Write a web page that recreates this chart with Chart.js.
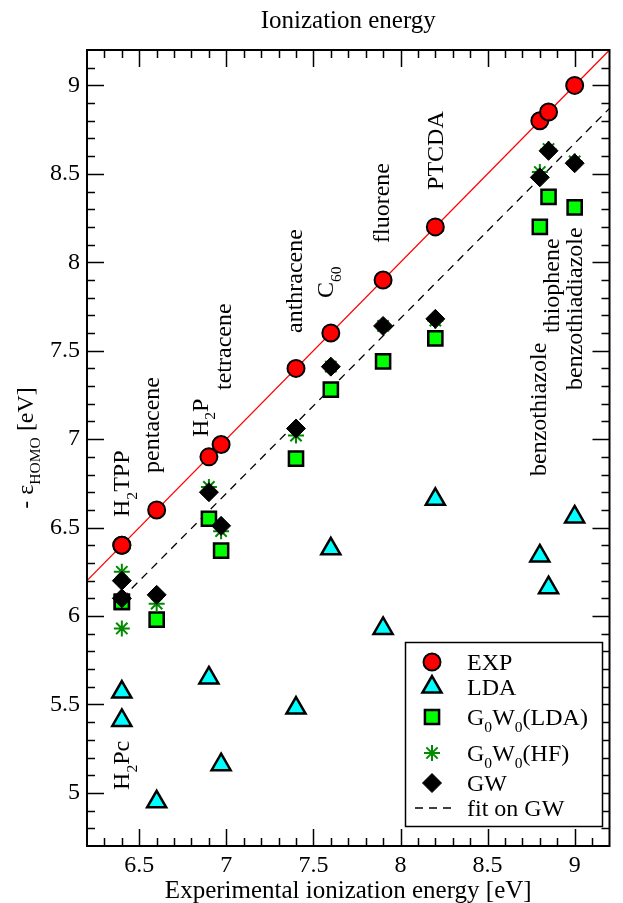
<!DOCTYPE html>
<html><head><meta charset="utf-8">
<script src="https://cdn.jsdelivr.net/npm/chart.js@4.4.0/dist/chart.umd.min.js"></script>
<style>html,body{margin:0;padding:0;background:#fff;}canvas{display:block;}</style>
</head><body>
<canvas id="c" width="623" height="903"></canvas>
<script>
// ---- data ----
const molecules = ['H_2Pc','H_2TPP','pentacene','H_2P','tetracene','anthracene','C_{60}','fluorene','PTCDA','benzothiazole','thiophene','benzothiadiazole'];
const expIE       = [6.40, 6.40, 6.60, 6.90, 6.97, 7.40, 7.60, 7.90, 8.20, 8.80, 8.85, 9.00];
const ldaHOMO     = [5.41, 5.57, 4.95, 5.65, 5.16, 5.48, 6.38, 5.93, 6.66, 6.34, 6.16, 6.56];
const g0w0LdaHOMO = [6.08, 6.08, 5.98, 6.55, 6.37, 6.89, 7.28, 7.44, 7.57, 8.20, 8.37, 8.31];
const g0w0HfHOMO  = [5.93, 6.25, 6.07, 6.73, 6.48, 7.02, 7.41, 7.64, 7.67, 8.51, 8.64, 8.57];
const gwHOMO      = [6.10, 6.20, 6.12, 6.70, 6.51, 7.06, 7.41, 7.64, 7.68, 8.48, 8.63, 8.56];
const identityX = [6.2, 9.2];
const identityY = [6.2, 9.2];
const fitX = [6.4, 9.2];
const fitY = [6.10, 8.87];
const xTicks = [6.5, 7, 7.5, 8, 8.5, 9];
const yTicks = [5, 5.5, 6, 6.5, 7, 7.5, 8, 8.5, 9];

// annotation anchors (data coords: baseline x, start y) for rotated molecule names
const labelAnchorX = [6.443, 6.443, 6.613, 6.896, 7.026, 7.434, 7.615, 7.932, 8.243, 8.838, 8.911, 9.041];
const labelAnchorY = [5.017, 6.56, 6.809, 7.012, 7.278, 7.60, 7.798, 8.109, 8.409, 6.792, 7.60, 7.278];

const FONT = '"Liberation Serif","Times New Roman",serif';
const pts = (xs, ys) => xs.map((x, i) => ({x, y: ys[i]}));

function parseRich(s){
  const segs=[]; let i=0, buf='';
  while(i<s.length){
    if(s[i]==='_'){
      if(buf){segs.push({t:buf,sub:false});buf='';}
      i++;
      if(s[i]==='{'){const j=s.indexOf('}',i);segs.push({t:s.slice(i+1,j),sub:true});i=j+1;}
      else {segs.push({t:s[i],sub:true});i++;}
    } else {buf+=s[i];i++;}
  }
  if(buf)segs.push({t:buf,sub:false});
  return segs;
}
function richWidth(ctx,s,size){
  let w=0;
  for(const g of parseRich(s)){ctx.font=(g.sub?size*0.65:size)+'px '+FONT;w+=ctx.measureText(g.t).width;}
  return w;
}
function drawRich(ctx,s,x,y,size){
  let cx=x;
  ctx.textBaseline='alphabetic';ctx.textAlign='left';
  for(const g of parseRich(s)){
    const fs=g.sub?size*0.65:size;
    ctx.font=fs+'px '+FONT;
    ctx.fillText(g.t,cx,y+(g.sub?size*0.3:0));
    cx+=ctx.measureText(g.t).width;
  }
}

const legendItems = [
  {text:'EXP', style:'circle', r:8.5, fill:'#ff0000', stroke:'#000', bw:2},
  {text:'LDA', style:'triangle', r:11, fill:'#00ffff', stroke:'#000', bw:2.5},
  {text:'G_0W_0(LDA)', style:'rect', r:10, fill:'#00ff00', stroke:'#000', bw:2.5},
  {text:'G_0W_0(HF)', style:'star', r:8, fill:'#008b00', stroke:'#008b00', bw:2},
  {text:'GW', style:'rectRot', r:9.5, fill:'#000', stroke:'#000', bw:1},
  {text:'fit on GW', style:'dash'}
];

const decor = {
  id:'decor',
  afterDraw(chart){
    const ctx=chart.ctx, a=chart.chartArea, xs=chart.scales.x, ys=chart.scales.y;
    ctx.save();
    ctx.strokeStyle='#000';ctx.fillStyle='#000';
    // ticks
    ctx.lineWidth=1.5;
    for(let i=63;i<92;i++){
      const px=Math.round(xs.getPixelForValue(i/10))+0.5; const L=(i%5===0)?17:8;
      ctx.beginPath();ctx.moveTo(px,a.bottom);ctx.lineTo(px,a.bottom-L);ctx.moveTo(px,a.top);ctx.lineTo(px,a.top+L);ctx.stroke();
    }
    for(let i=48;i<92;i++){
      const py=Math.round(ys.getPixelForValue(i/10))+0.5; const L=(i%5===0)?17:8;
      ctx.beginPath();ctx.moveTo(a.left,py);ctx.lineTo(a.left+L,py);ctx.moveTo(a.right,py);ctx.lineTo(a.right-L,py);ctx.stroke();
    }
    // frame
    ctx.lineWidth=2;
    ctx.strokeRect(a.left,a.top,a.right-a.left,a.bottom-a.top);
    // molecule labels
    const fs=24;
    molecules.forEach((m,i)=>{
      const px=xs.getPixelForValue(labelAnchorX[i]), py=ys.getPixelForValue(labelAnchorY[i]);
      ctx.save();ctx.translate(px,py);ctx.rotate(-Math.PI/2);
      drawRich(ctx,m,0,0,fs);
      ctx.restore();
    });
    // title
    ctx.font='25px '+FONT;ctx.textAlign='center';ctx.textBaseline='alphabetic';
    ctx.fillText('Ionization energy',(a.left+a.right)/2,28);
    // x title
    ctx.font='25px '+FONT;
    ctx.fillText('Experimental ionization energy [eV]',(a.left+a.right)/2,898);
    // y title
    const yt='- ε_{HOMO} [eV]';
    const w=richWidth(ctx,yt,24);
    ctx.save();ctx.translate(33,(a.top+a.bottom)/2);ctx.rotate(-Math.PI/2);
    drawRich(ctx,yt,-w/2,0,24);ctx.restore();
    // legend
    ctx.fillStyle='#fff';ctx.fillRect(405,642,197,184);
    ctx.lineWidth=1.5;ctx.strokeStyle='#000';ctx.strokeRect(405.5,642.5,197,184);
    const rowY=[662,687,717,753,783,808];
    legendItems.forEach((it,i)=>{
      const cy=rowY[i];
      if(it.style==='dash'){
        ctx.save();ctx.setLineDash([8,6]);ctx.lineWidth=1.3;ctx.strokeStyle='#000';
        ctx.beginPath();ctx.moveTo(415,cy);ctx.lineTo(452,cy);ctx.stroke();ctx.restore();
      } else {
        ctx.save();ctx.fillStyle=it.fill;ctx.strokeStyle=it.stroke;ctx.lineWidth=it.bw;
        Chart.helpers.drawPoint(ctx,{pointStyle:it.style,radius:it.r,rotation:0,borderWidth:it.bw},432,cy);
        ctx.restore();
      }
      ctx.fillStyle='#000';
      drawRich(ctx,it.text,467,cy+8,24);
    });
    ctx.restore();
  }
};

const tickFont={family:'Liberation Serif',size:24};
new Chart(document.getElementById('c'),{
  type:'scatter',
  data:{datasets:[
    {label:'EXP',data:pts(expIE,expIE),pointStyle:'circle',pointRadius:8.5,backgroundColor:'#ff0000',borderColor:'#000',borderWidth:2,order:1},
    {label:'LDA',data:pts(expIE,ldaHOMO),pointStyle:'triangle',pointRadius:11,backgroundColor:'#00ffff',borderColor:'#000',borderWidth:2.5,order:6},
    {label:'G0W0(LDA)',data:pts(expIE,g0w0LdaHOMO),pointStyle:'rect',pointRadius:10,backgroundColor:'#00ff00',borderColor:'#000',borderWidth:2.5,order:5},
    {label:'G0W0(HF)',data:pts(expIE,g0w0HfHOMO),pointStyle:'star',pointRadius:8,backgroundColor:'#008b00',borderColor:'#008b00',borderWidth:2,order:4},
    {label:'GW',data:pts(expIE,gwHOMO),pointStyle:'rectRot',pointRadius:9.5,backgroundColor:'#000',borderColor:'#000',borderWidth:1,order:3},
    {label:'fit on GW',data:pts(fitX,fitY),showLine:true,pointRadius:0,borderColor:'#000',borderWidth:1.3,borderDash:[8,6],order:7},
    {label:'y=x',data:pts(identityX,identityY),showLine:true,pointRadius:0,borderColor:'#ff0000',borderWidth:1.3,order:8}
  ]},
  options:{
    responsive:false,animation:false,
    layout:{padding:{left:0,right:6,top:50,bottom:0}},
    plugins:{legend:{display:false},tooltip:{enabled:false}},
    scales:{
      x:{type:'linear',min:6.2,max:9.2,
        afterBuildTicks:s=>{s.ticks=xTicks.map(v=>({value:v}));},
        afterFit:s=>{s.height=57;},
        grid:{display:false,drawTicks:false},border:{display:false},
        ticks:{font:tickFont,color:'#000',padding:5,maxRotation:0,autoSkip:false,callback:v=>String(v)}},
      y:{type:'linear',min:4.7,max:9.2,
        afterBuildTicks:s=>{s.ticks=yTicks.map(v=>({value:v}));},
        afterFit:s=>{s.width=87;},
        grid:{display:false,drawTicks:false},border:{display:false},
        ticks:{font:tickFont,color:'#000',padding:7,autoSkip:false,callback:v=>String(v)}}
    }
  },
  plugins:[decor]
});
</script>
</body></html>
